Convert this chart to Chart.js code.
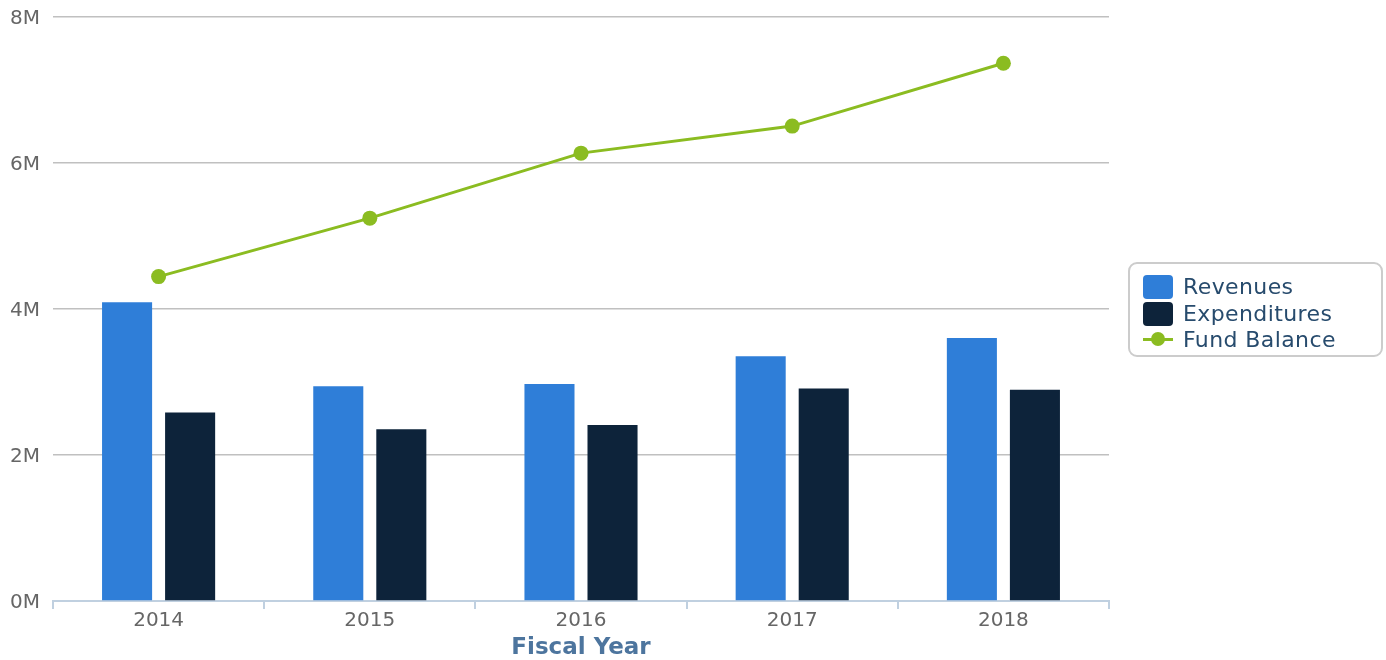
<!DOCTYPE html>
<html>
<head>
<meta charset="utf-8">
<script src="https://cdn.jsdelivr.net/npm/chart.js@4"></script>
<style>
  body { margin: 0; background: #fff; }
  #wrap { position: relative; width: 1386px; height: 660px; }
  #leyenda {
    position: absolute; left: 1128px; top: 262px; width: 251px; height: 91px;
    border: 2px solid #cccccc; border-radius: 9px; box-sizing: content-box;
    font-family: "DejaVu Sans", sans-serif; font-size: 22px; letter-spacing: 0.4px; color: #274b6d;
  }
  .item { position: absolute; left: 13px; height: 26px; line-height: 26px; white-space: nowrap; }
  .caja { position: absolute; left: 0; top: 1px; width: 30px; height: 24px; border-radius: 4px; }
  .linea { position: absolute; left: 0; top: 11px; width: 30px; height: 3px; }
  .punto { position: absolute; left: 8px; top: 5px; width: 14px; height: 14px; border-radius: 50%; }
  .texto { position: absolute; left: 40px; top: 0; }
</style>
</head>
<body>
<div id="wrap">
  <canvas id="myChart" width="1386" height="660"></canvas>
  <div id="leyenda"></div>
</div>
<script>
// datos
const anios = ['2014', '2015', '2016', '2017', '2018']
const ingresos = [4090000, 2940000, 2970000, 3350000, 3600000]
const gastos = [2580000, 2350000, 2410000, 2910000, 2890000]
const saldoFondo = [4440000, 5240000, 6130000, 6500000, 7360000]
const ticksY = [0, 2000000, 4000000, 6000000, 8000000]

const colores = { ingresos: '#2f7ed8', gastos: '#0d233a', saldo: '#8bbc21' }
const fuente = '"DejaVu Sans", sans-serif'

const datasets = [
    {
        type: 'line',
        label: 'Fund Balance',
        data: saldoFondo,
        borderColor: colores.saldo,
        backgroundColor: colores.saldo,
        borderWidth: 3,
        pointRadius: 7.5,
        pointHoverRadius: 7.5,
        pointBorderWidth: 0,
        order: 0,
    },
    {
        label: 'Revenues',
        data: ingresos,
        backgroundColor: colores.ingresos,
        barPercentage: 0.794,
        categoryPercentage: 0.597,
        order: 1,
    },
    {
        label: 'Expenditures',
        data: gastos,
        backgroundColor: colores.gastos,
        barPercentage: 0.794,
        categoryPercentage: 0.597,
        order: 1,
    },
]

const config = {
    type: 'bar',
    data: { labels: anios, datasets },
    options: {
        responsive: false,
        animation: false,
        layout: { padding: { left: 0, right: 277, top: 6, bottom: 0 } },
        plugins: { legend: { display: false }, tooltip: { enabled: false } },
        scales: {
            x: {
                offset: true,
                grid: {
                    offset: true,
                    drawOnChartArea: false,
                    drawTicks: true,
                    tickLength: 8,
                    color: '#c0d0e0',
                    lineWidth: 2,
                },
                border: { color: '#c0d0e0', width: 2 },
                ticks: { color: '#666666', font: { family: fuente, size: 20 }, padding: 0 },
                title: {
                    display: true,
                    text: 'Fiscal Year',
                    color: '#4d759e',
                    font: { family: fuente, size: 23, weight: 'bold', lineHeight: 1.0 },
                    padding: { top: 0, bottom: 0 },
                },
                afterFit: (scale) => { scale.height = 59 },
            },
            y: {
                min: 0,
                max: 8000000,
                afterBuildTicks: (scale) => { scale.ticks = ticksY.map((v) => ({ value: v })) },
                grid: { color: '#c0c0c0', lineWidth: 1.5, drawTicks: false },
                border: { display: false },
                ticks: {
                    color: '#666666',
                    font: { family: fuente, size: 20, lineHeight: 0.35 },
                    padding: 13,
                    labelOffset: 2,
                    callback: (v) => (v / 1000000) + 'M',
                },
                afterFit: (scale) => { scale.width = 53 },
            },
        },
    },
}

const ctx = document.getElementById('myChart').getContext('2d')
const chartInstance = new Chart(ctx, config)

// leyenda en html con borde
const leyenda = document.getElementById('leyenda')
const items = [
    { nombre: 'Revenues', color: colores.ingresos, tipo: 'caja' },
    { nombre: 'Expenditures', color: colores.gastos, tipo: 'caja' },
    { nombre: 'Fund Balance', color: colores.saldo, tipo: 'linea' },
]
items.forEach((it, i) => {
    const div = document.createElement('div')
    div.className = 'item'
    div.style.top = (10 + i * 26.5) + 'px'
    let icono = ''
    if (it.tipo === 'caja') {
        icono = `<span class="caja" style="background:${it.color}"></span>`
    } else {
        icono = `<span class="linea" style="background:${it.color}"></span><span class="punto" style="background:${it.color}"></span>`
    }
    div.innerHTML = icono + `<span class="texto">${it.nombre}</span>`
    leyenda.appendChild(div)
})
</script>
</body>
</html>
